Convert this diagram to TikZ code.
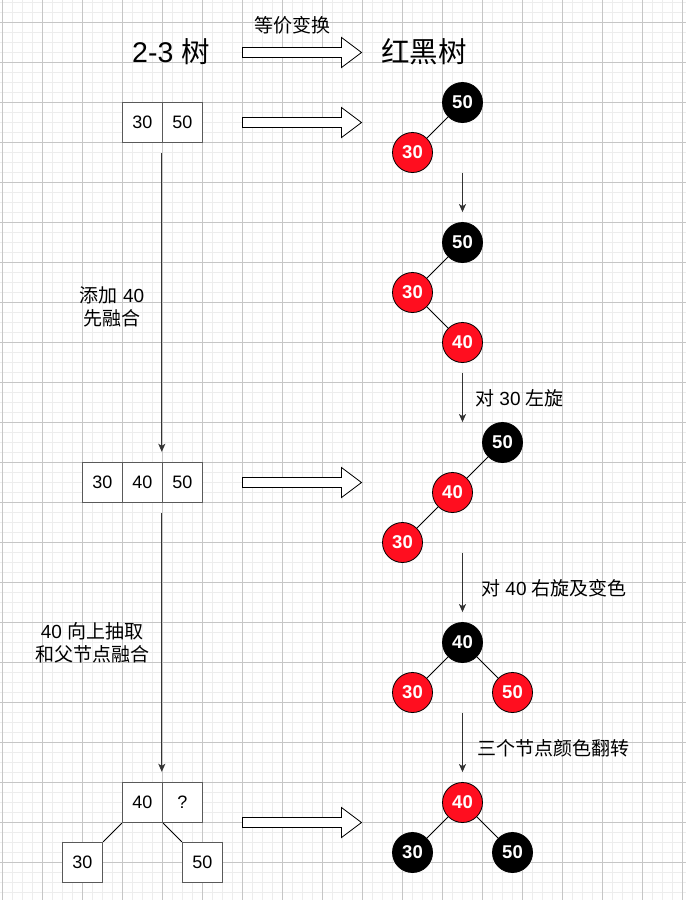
\documentclass[tikz,border=0pt]{standalone}
\usepackage{fontspec}
\setmainfont{Liberation Sans}
\newfontfamily\cjk{Noto Sans CJK SC}
\usetikzlibrary{arrows.meta}
\definecolor{rbred}{HTML}{FF0E1F}
\definecolor{boxgray}{HTML}{5A5A5A}
\definecolor{arrgray}{HTML}{333333}
\definecolor{minorgrid}{HTML}{EDEDED}
\definecolor{majorgrid}{HTML}{C6C6C6}
\begin{document}
\begin{tikzpicture}[x=1pt,y=-1pt,
  cell/.style={draw=boxgray, line width=1.4pt, fill=white, minimum width=40pt, minimum height=40pt, inner sep=0pt, font=\fontsize{18}{20}\selectfont},
  rb/.style={circle, minimum size=40pt, inner sep=0pt, draw=black, line width=0.8pt, text=white, font=\bfseries\fontsize{18.5}{20}\selectfont},
  rednode/.style={rb, fill=rbred},
  blacknode/.style={rb, fill=black},
  edge/.style={draw=black, line width=0.8pt},
  varrow/.style={draw=arrgray, line width=1.3pt, -{Stealth[length=8pt,width=7pt,inset=2pt]}},
  hollow/.style={draw=black, line width=0.8pt, fill=white},
  lbl/.style={font=\fontsize{19}{23}\selectfont, align=center, inner sep=0pt},
  title/.style={font=\fontsize{28.5}{32}\selectfont, inner sep=0pt}]
\useasboundingbox (0,0) rectangle (686,900);
\fill[white] (0,0) rectangle (686,900);
% grid
\foreach \i in {0,...,68} {\draw[minorgrid, line width=1.5pt] ({2.5+10*\i},0) -- ++(0,900);}
\foreach \j in {0,...,89} {\draw[minorgrid, line width=1.5pt] (0,{2.5+10*\j}) -- ++(686,0);}
\foreach \i in {0,...,17} {\draw[majorgrid, line width=0.8pt] ({2.5+40*\i},0) -- ++(0,900);}
\foreach \j in {0,...,21} {\draw[majorgrid, line width=0.8pt] (0,{22.5+40*\j}) -- ++(686,0);}

% titles
\node[title] (t23) at (171,52) {2-3 {\cjk 树}};
\node[title] (trb) at (424,52) {\cjk 红黑树};
\node[lbl] (eq) at (292,25) {\cjk 等价变换};

% hollow arrows
\foreach \yc in {52.5,122.5,482.5,822.5} {
  \draw[hollow] (242.5,\yc) ++(0,-5) -- ++(99,0) -- ++(0,-10) -- ++(20,15) -- ++(-20,15) -- ++(0,-10) -- ++(-99,0) -- cycle;
}

% 2-3 tree boxes
\node[cell] (b1l) at (142.5,122.5) {30};
\node[cell] (b1r) at (182.5,122.5) {50};

\node[cell] (b2l) at (102.5,482.5) {30};
\node[cell] (b2m) at (142.5,482.5) {40};
\node[cell] (b2r) at (182.5,482.5) {50};

\node[cell] (b3l) at (142.5,802.5) {40};
\node[cell] (b3r) at (182.5,802.5) {?};
\node[cell] (s1) at (82.5,862.5) {30};
\node[cell] (s2) at (202.5,862.5) {50};
\draw[edge] (b3l.south west) -- (s1.north east);
\draw[edge] (b3l.south east) -- (s2.north west);

\draw[varrow, shorten <=10pt, shorten >=10pt] (b1r.south west) -- (b2r.north west);
\draw[varrow, shorten <=10pt, shorten >=10pt] (b2r.south west) -- (b3r.north west);

\node[lbl] (l1) at (112,306.5) {{\cjk 添加} 40\\{\cjk 先融合}};
\node[lbl] (l2) at (92,643) {40 {\cjk 向上抽取}\\{\cjk 和父节点融合}};

% red-black trees
\node[blacknode] (t1a) at (462.5,102.5) {50};
\node[rednode] (t1b) at (412.5,152.5) {30};
\draw[edge] (t1a) -- (t1b);

\node[blacknode] (t2a) at (462.5,242.5) {50};
\node[rednode] (t2b) at (412.5,292.5) {30};
\node[rednode] (t2c) at (462.5,342.5) {40};
\draw[edge] (t2a) -- (t2b);
\draw[edge] (t2b) -- (t2c);

\node[blacknode] (t3a) at (502.5,442.5) {50};
\node[rednode] (t3b) at (452.5,492.5) {40};
\node[rednode] (t3c) at (402.5,542.5) {30};
\draw[edge] (t3a) -- (t3b);
\draw[edge] (t3b) -- (t3c);

\node[blacknode] (t4a) at (462.5,642.5) {40};
\node[rednode] (t4b) at (412.5,692.5) {30};
\node[rednode] (t4c) at (512.5,692.5) {50};
\draw[edge] (t4a) -- (t4b);
\draw[edge] (t4a) -- (t4c);

\node[rednode] (t5a) at (462.5,802.5) {40};
\node[blacknode] (t5b) at (412.5,852.5) {30};
\node[blacknode] (t5c) at (512.5,852.5) {50};
\draw[edge] (t5a) -- (t5b);
\draw[edge] (t5a) -- (t5c);

% arrows between trees
\coordinate (a1s) at (462.5,172.5);
\coordinate (a2s) at (462.5,372.5);
\coordinate (a3s) at (462.5,552.5);
\coordinate (a4s) at (462.5,712.5);
\draw[varrow, shorten >=10pt] (a1s) -- (t2a.north);
\draw[varrow] (a2s) -- (t2c |- t3a.north);
\draw[varrow, shorten >=10pt] (a3s) -- (t4a.north);
\draw[varrow, shorten >=10pt] (a4s) -- (t5a.north);

\node[lbl, anchor=west] (r1) at (475,398) {{\cjk 对} 30 {\cjk 左旋}};
\node[lbl, anchor=west] (r2) at (481,588) {{\cjk 对} 40 {\cjk 右旋及变色}};
\node[lbl, anchor=west] (r3) at (477,748) {\cjk 三个节点颜色翻转};
\end{tikzpicture}
\end{document}
